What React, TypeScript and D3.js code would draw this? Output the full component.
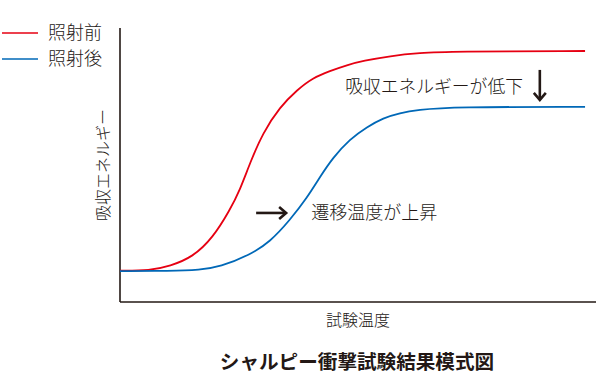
import React from "react";
import * as d3 from "d3";

// 試験温度 (0-100, arbitrary units) vs 吸収エネルギー (0-100)
const beforeTemp = [0, 6.3, 10.5, 15.3, 19.5, 23.1, 25.2, 27.3, 30.0, 33.6, 37.2, 40.5, 44.1, 47.7, 51.1, 56.7, 63.0, 69.3, 97.7];
const beforeEnergy = [11.4, 11.5, 13.1, 16.4, 23.4, 33.6, 40.9, 50.7, 61.7, 71.2, 77.4, 81.8, 84.3, 86.5, 88.0, 89.8, 90.9, 91.4, 91.6];

const afterTemp = [0, 10.5, 16.8, 21.0, 27.3, 31.5, 35.7, 39.3, 42.0, 44.7, 48.3, 51.9, 55.3, 58.8, 62.4, 70.0, 97.7];
const afterEnergy = [11.3, 11.3, 11.7, 12.8, 17.2, 21.9, 29.9, 38.0, 45.6, 52.6, 59.5, 63.9, 67.2, 69.0, 70.1, 71.2, 71.2];

const seriesNames = ["照射前", "照射後"];
const seriesColors = ["#e60012", "#0068b7"];

const xLabel = "試験温度";
const yLabel = "吸収エネルギー";
const title = "シャルピー衝撃試験結果模式図";
const noteShift = "遷移温度が上昇";
const noteDrop = "吸収エネルギーが低下";

const width = 600;
const height = 374;
const margin = { top: 28, right: 4, bottom: 72, left: 120 };
const ink = "#231815";
const font = "'Noto Sans CJK JP', 'Noto Sans', sans-serif";

const App: React.FC = () => {
  const x = d3.scaleLinear().domain([0, 100]).range([margin.left, width - margin.right]);
  const y = d3.scaleLinear().domain([0, 100]).range([height - margin.bottom, margin.top]);

  const line = d3
    .line<[number, number]>()
    .x((d) => x(d[0]))
    .y((d) => y(d[1]))
    .curve(d3.curveBasis);

  const series = [
    d3.zip(beforeTemp, beforeEnergy) as [number, number][],
    d3.zip(afterTemp, afterEnergy) as [number, number][],
  ];

  // arrow "→" next to 遷移温度
  const ax = x(28.6);
  const ay = y(32.5);
  // arrow "↓" next to 低下
  const dx = x(88.2);
  const dy = y(84.7);

  return (
    <svg
      width={width}
      height={height}
      style={{ position: "absolute", left: 0, top: 0, fontFamily: font }}
    >
      <rect width={width} height={height} fill="#fff" />

      {/* legend */}
      {seriesNames.map((name, i) => (
        <g key={name} transform={`translate(2,${33 + i * 26})`}>
          <line x1={0} x2={36} y1={0} y2={0} stroke={seriesColors[i]} strokeWidth={1.6} />
          <text x={46} y={0} dy="0.36em" fontSize={18} fontWeight={300} fill={ink}>
            {name}
          </text>
        </g>
      ))}

      {/* axes */}
      <line x1={x(0)} x2={x(0)} y1={y(100)} y2={y(0)} stroke={ink} strokeWidth={1.6} />
      <line x1={x(0)} x2={x(100)} y1={y(0)} y2={y(0)} stroke={ink} strokeWidth={1.6} />

      {/* curves */}
      {series.map((s, i) => (
        <path key={i} d={line(s) || ""} fill="none" stroke={seriesColors[i]} strokeWidth={1.8} />
      ))}

      {/* annotations */}
      <g stroke={ink} strokeWidth={2.6} fill="none">
        <line x1={ax} x2={ax + 30} y1={ay} y2={ay} />
        <path d={`M${ax + 23},${ay - 6} L${ax + 30},${ay} L${ax + 23},${ay + 6}`} />
        <line x1={dx} x2={dx} y1={dy} y2={dy + 30} />
        <path d={`M${dx - 6},${dy + 23} L${dx},${dy + 30} L${dx + 6},${dy + 23}`} />
      </g>
      <text x={x(40.2)} y={ay} dy="0.36em" fontSize={18} fontWeight={300} fill={ink}>
        {noteShift}
      </text>
      <text x={x(47.3)} y={y(78.5)} dy="0.36em" fontSize={17.8} fontWeight={300} fill={ink}>
        {noteDrop}
      </text>

      {/* axis labels */}
      <text x={(x(0) + x(100)) / 2} y={320} dy="0.36em" textAnchor="middle" fontSize={16} fontWeight={300} fill={ink}>
        {xLabel}
      </text>
      <text
        transform={`translate(103,${(y(0) + y(100)) / 2}) rotate(-90)`}
        dy="0.36em"
        textAnchor="middle"
        fontSize={16}
        fontWeight={300}
        fill={ink}
      >
        {yLabel}
      </text>

      {/* title */}
      <text x={357} y={362} dy="0.36em" textAnchor="middle" fontSize={19.6} fontWeight="bold" fill={ink}>
        {title}
      </text>
    </svg>
  );
};

export default App;
